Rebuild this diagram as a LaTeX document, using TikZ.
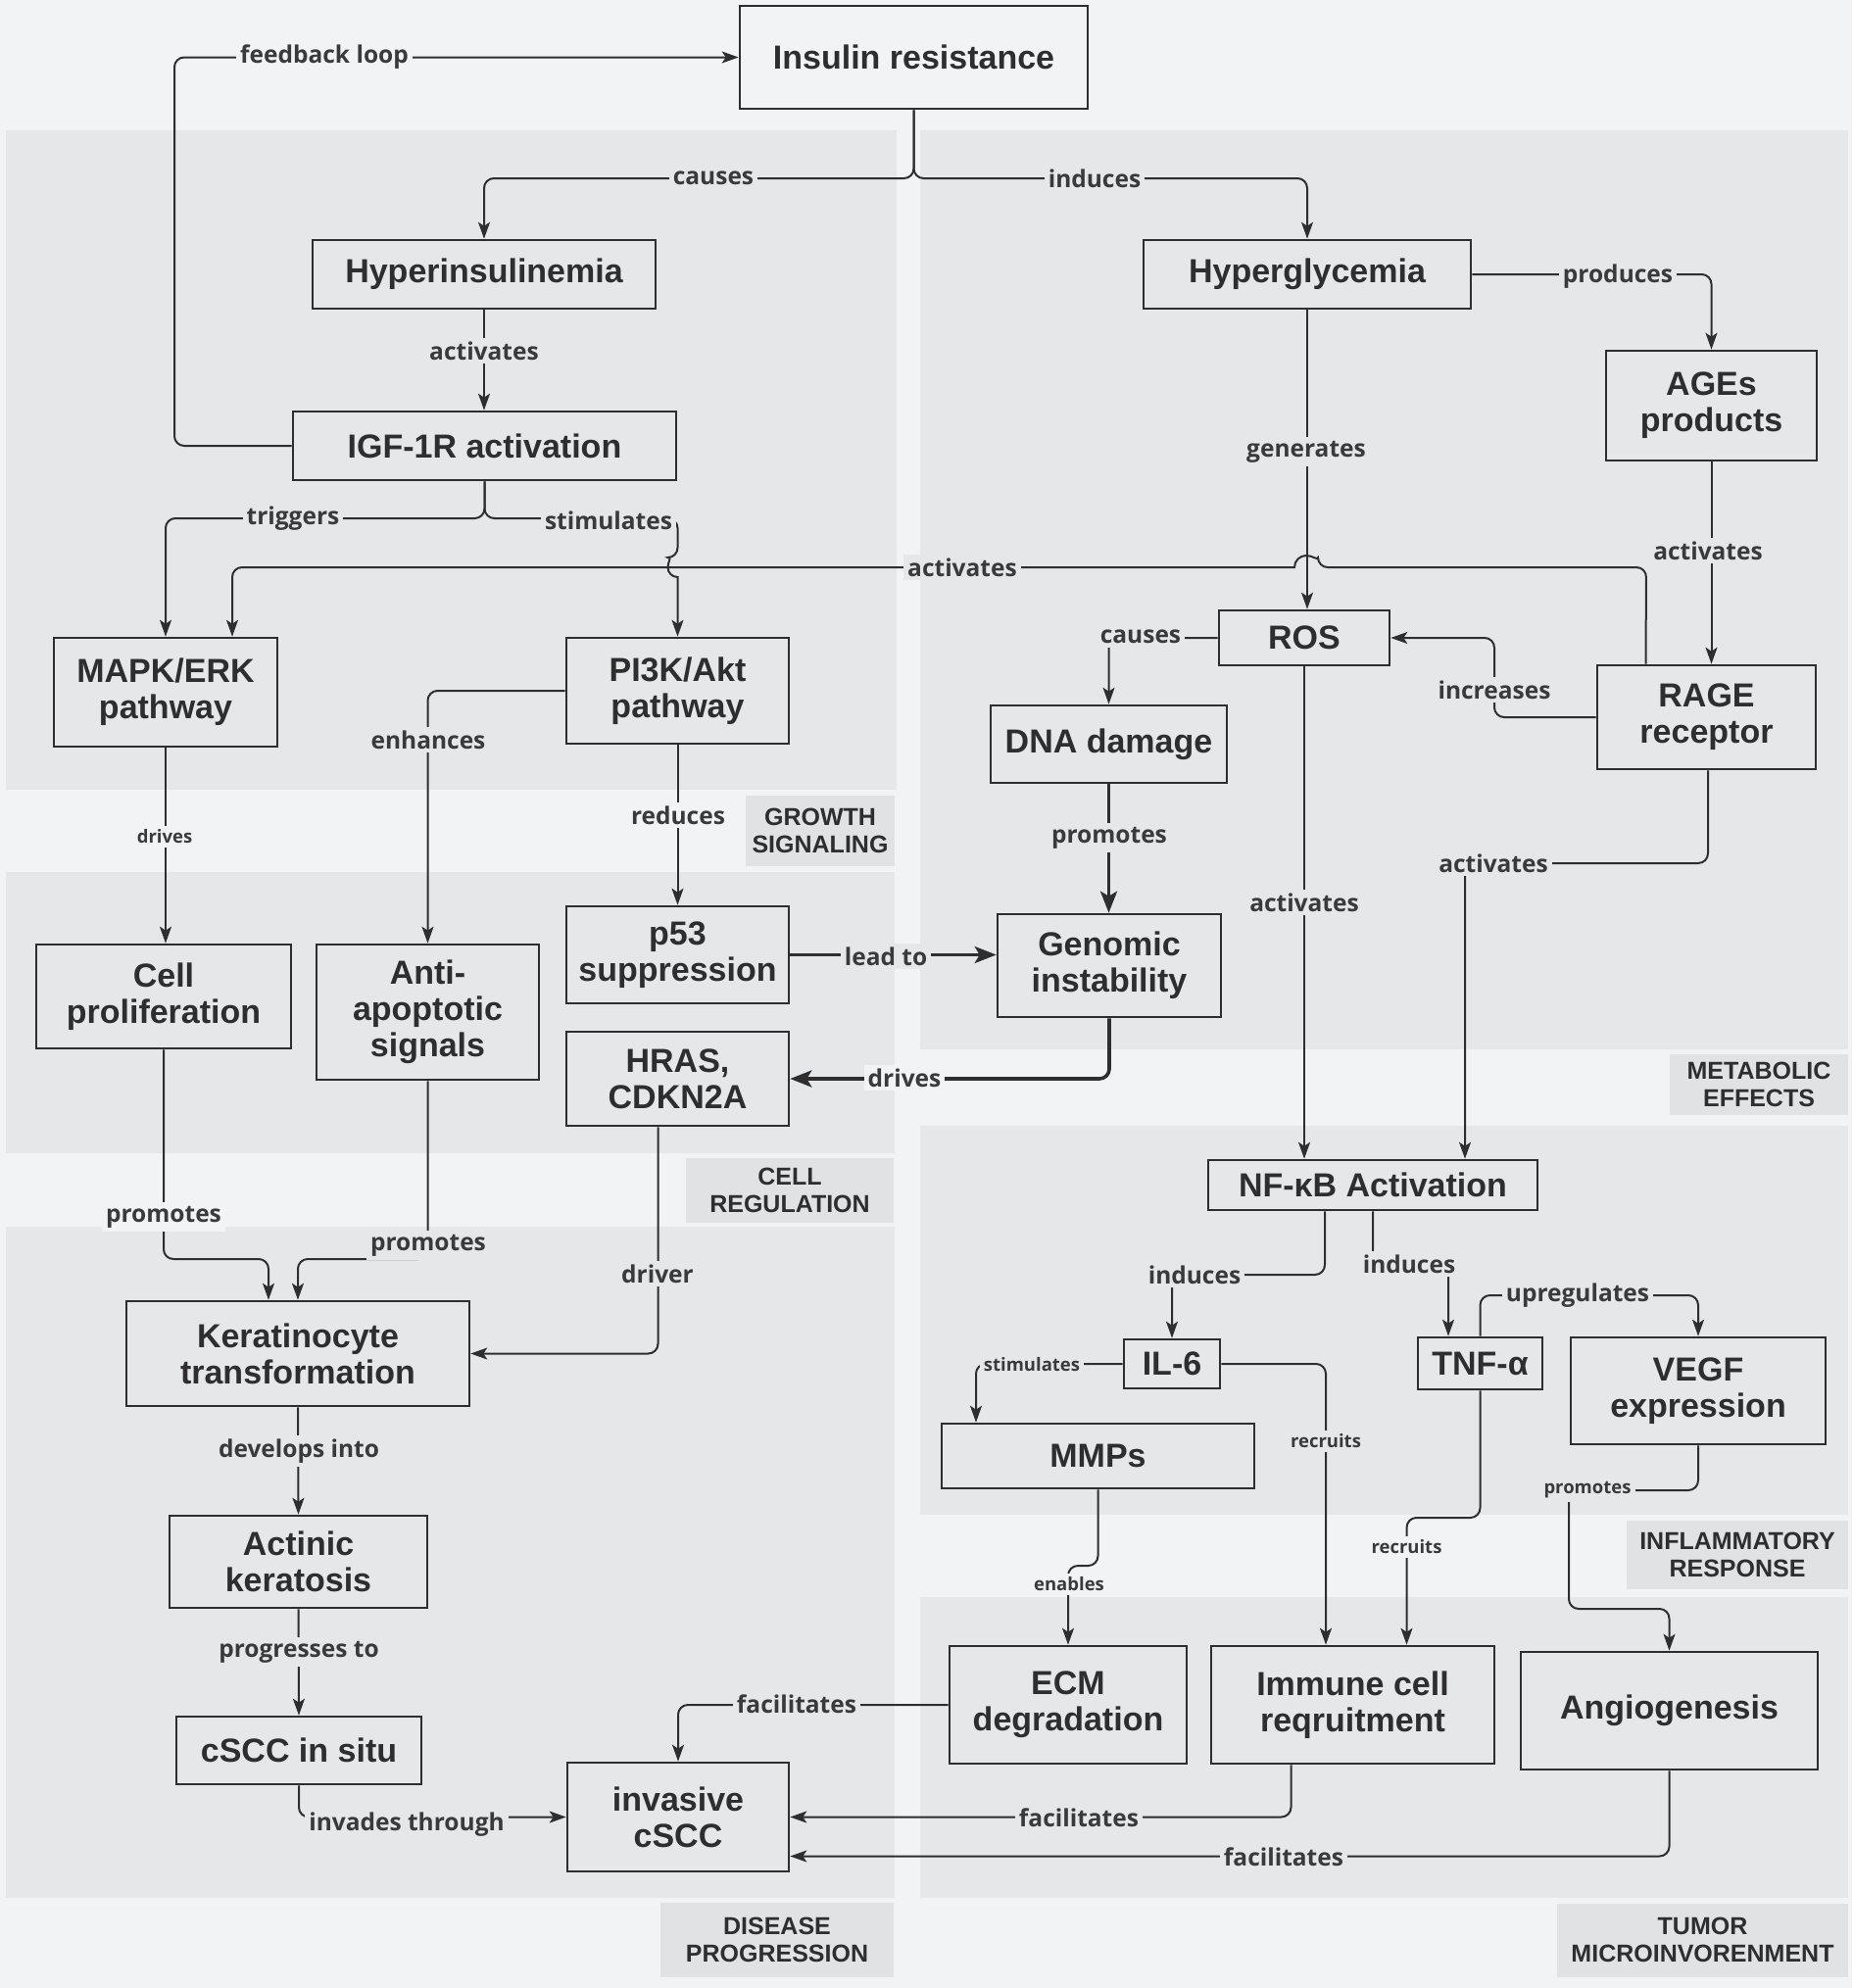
\documentclass[tikz,border=0pt]{standalone}
\usepackage{fontspec}
\setmainfont{Liberation Sans}
\newfontfamily\lblfont{Open Sans}
\usetikzlibrary{arrows.meta}
\definecolor{pagebg}{HTML}{F2F3F4}
\definecolor{panelbg}{HTML}{E6E7E9}
\definecolor{tagbg}{HTML}{E1E2E4}
\definecolor{ink}{HTML}{2E2E2E}
\definecolor{lblink}{HTML}{3A3A3A}

\begin{document}
\begin{tikzpicture}
    [
    x=1pt, y=-1pt,
    every node/.style={text=ink},
    box/.style={draw=ink, line width=2.6pt, align=center, inner sep=0pt, font=\bfseries\fontsize{34}{37}\selectfont},
    conn/.style={draw=ink, line width=2pt, rounded corners=10pt, -{Stealth[length=17pt,width=12pt,inset=4pt]}},
    thickconn/.style={conn, line width=3.6pt, -{Stealth[length=22pt,width=17pt,inset=5pt]}},
    lbl/.style={fill=panelbg, text=lblink, inner sep=4pt, font=\lblfont\bfseries\fontsize{24.5}{28}\selectfont},
    lblgap/.style={lbl, fill=pagebg},
    small/.style={font=\lblfont\bfseries\fontsize{18.5}{22}\selectfont},
    tag/.style={fill=tagbg, align=center, inner sep=0pt, font=\bfseries\fontsize{25}{28}\selectfont},
    ]

    \fill[pagebg] (0,0) rectangle (1890,2029);
    \useasboundingbox (0,0) rectangle (1890,2029);

    % panels
    \fill[panelbg] (6,133) rectangle (915,806);
    \fill[panelbg] (6,890) rectangle (913,1177);
    \fill[panelbg] (6,1252) rectangle (913,1937);
    \fill[panelbg] (939,133) rectangle (1886,1071);
    \fill[panelbg] (939,1149) rectangle (1886,1546);
    \fill[panelbg] (939,1630) rectangle (1886,1937);

    \node[tag, minimum width=152pt, minimum height=72pt] (tag_growth) at (837,848) {GROWTH\\SIGNALING};
    \node[tag, minimum width=212pt, minimum height=66pt] (tag_cell) at (806,1215) {CELL\\REGULATION};
    \node[tag, minimum width=238pt, minimum height=76pt] (tag_disease) at (793,1980) {DISEASE\\PROGRESSION};
    \node[tag, minimum width=182pt, minimum height=62pt] (tag_metabolic) at (1795,1107) {METABOLIC\\EFFECTS};
    \node[tag, minimum width=226pt, minimum height=70pt] (tag_inflam) at (1773,1587) {INFLAMMATORY\\RESPONSE};
    \node[tag, minimum width=297pt, minimum height=75pt] (tag_tumor) at (1737.5,1980) {TUMOR\\MICROINVORENMENT};

    % boxes
    \node[box, minimum width=355pt, minimum height=105pt] (ins) at (932.5,58.5) {Insulin resistance};
    \node[box, minimum width=350pt, minimum height=70pt] (hyperins) at (494,280) {Hyperinsulinemia};
    \node[box, minimum width=334pt, minimum height=70pt] (hypergly) at (1334,280) {Hyperglycemia};
    \node[box, minimum width=391pt, minimum height=70pt] (igf) at (494.5,455) {IGF-1R activation};
    \node[box, minimum width=215pt, minimum height=112pt] (ages) at (1746.5,414) {AGEs\\products};
    \node[box, minimum width=228pt, minimum height=111pt] (mapk) at (169,706.5) {MAPK/ERK\\pathway};
    \node[box, minimum width=227pt, minimum height=108pt] (pi3k) at (691.5,705) {PI3K/Akt\\pathway};
    \node[box, minimum width=174pt, minimum height=56pt] (ros) at (1331,651) {ROS};
    \node[box, minimum width=241pt, minimum height=79pt] (dna) at (1131.5,759.5) {DNA damage};
    \node[box, minimum width=223pt, minimum height=106pt] (rage) at (1741.5,732) {RAGE\\receptor};
    \node[box, minimum width=260pt, minimum height=106pt] (cellprol) at (167,1017) {Cell\\proliferation};
    \node[box, minimum width=227pt, minimum height=138pt] (antiapo) at (436.5,1033) {Anti-\\apoptotic\\signals};
    \node[box, minimum width=227pt, minimum height=99pt] (p53) at (691.5,974.5) {p53\\suppression};
    \node[box, minimum width=227pt, minimum height=96pt] (hras) at (691.5,1101) {HRAS,\\CDKN2A};
    \node[box, minimum width=228pt, minimum height=105pt] (genomic) at (1132,985.5) {Genomic\\instability};
    \node[box, minimum width=336pt, minimum height=51pt] (nfkb) at (1401,1209.5) {NF-κB Activation};
    \node[box, minimum width=98pt, minimum height=50pt] (il6) at (1196,1392) {IL-6};
    \node[box, minimum width=127pt, minimum height=53pt] (tnf) at (1510.5,1391.5) {TNF-α};
    \node[box, minimum width=260pt, minimum height=109pt] (vegf) at (1733,1419.5) {VEGF\\expression};
    \node[box, minimum width=319pt, minimum height=66pt] (mmps) at (1120.5,1486) {MMPs};
    \node[box, minimum width=242pt, minimum height=120pt] (ecm) at (1090,1740) {ECM\\degradation};
    \node[box, minimum width=289pt, minimum height=120pt] (immune) at (1380.5,1740) {Immune cell\\reqruitment};
    \node[box, minimum width=303pt, minimum height=120pt] (angio) at (1703.5,1746) {Angiogenesis};
    \node[box, minimum width=350pt, minimum height=107pt] (kerat) at (304,1381.5) {Keratinocyte\\transformation};
    \node[box, minimum width=263pt, minimum height=94pt] (actinic) at (304.5,1594) {Actinic\\keratosis};
    \node[box, minimum width=250pt, minimum height=69pt] (insitu) at (305,1786.5) {cSCC in situ};
    \node[box, minimum width=226pt, minimum height=111pt] (invasive) at (692,1854.5) {invasive\\cSCC};

    % connectors
    \draw[conn] (igf.west) -| (178,58.5) -- (ins.west);
    \draw[conn] (ins.south) -- (932.5,182) -| (hyperins.north);
    \draw[conn] (ins.south) -- (932.5,182) -| (hypergly.north);
    \draw[conn] (hyperins.south) -- (hyperins.south |- igf.north);
    \draw[conn] (hypergly.east) -| (ages.north);
    \draw[conn] (hypergly.south) -- (hypergly.south |- ros.north);
    \draw[conn] (ages.south) -- (ages.south |- rage.north);
    \draw[conn] (igf.south) -- (494.5,529) -| (691.5,569) [sharp corners] arc[start angle=90, end angle=270, radius=10pt] -- (pi3k.north);
    \draw[conn] (igf.south) -- (494.5,529) -| (mapk.north);
    \draw[conn] ([xshift=-62pt]rage.north) -- (1680,579) -- (1345,579) [sharp corners] arc[start angle=0, end angle=180, radius=12pt] [rounded corners=10pt] -- (237,579) -- ([xshift=68pt]mapk.north);
    \draw[conn] (rage.west) -| (1525,651) -- (ros.east);
    \draw[conn] (ros.west) -| (dna.north);
    \draw[thickconn] (dna.south) -- (dna.south |- genomic.north);
    \draw[thickconn] (p53.east) -- (genomic.west |- p53.east);
    \draw[thickconn] (genomic.south) |- (hras.east);
    \draw[conn] (ros.south) -- (ros.south |- nfkb.north);
    \draw[conn] ([xshift=1.5pt]rage.south) -- (1743,881) -| ([xshift=94pt]nfkb.north);
    \draw[conn] (mapk.south) -- (mapk.south |- cellprol.north);
    \draw[conn] (pi3k.west) -| (antiapo.north);
    \draw[conn] (pi3k.south) -- (p53.north);
    \draw[conn] (cellprol.south) -- (167,1285) -| ([xshift=-30pt]kerat.north);
    \draw[conn] (antiapo.south) -- (436.5,1285) -| (kerat.north);
    \draw[conn] ([xshift=-20pt]hras.south) |- (kerat.east);
    \draw[conn] (kerat.south) -- (actinic.north);
    \draw[conn] (actinic.south) -- (insitu.north);
    \draw[conn] (insitu.south) |- (invasive.west);
    \draw[conn] (ecm.west) -| (invasive.north);
    \draw[conn] ([xshift=-63pt]immune.south) |- (invasive.east);
    \draw[conn] (angio.south) |- ([yshift=-40pt]invasive.east);
    \draw[conn] ([xshift=-49pt]nfkb.south) -- (1352,1301) -| (il6.north);
    \draw[conn] (nfkb.south) -- (1401,1290) -| ([xshift=-32.5pt]tnf.north);
    \draw[conn] (tnf.north) -- (1510.5,1322) -| (vegf.north);
    \draw[conn] (il6.west) -| ([xshift=-124.5pt]mmps.north);
    \draw[conn] (il6.east) -| ([xshift=-27.5pt]immune.north);
    \draw[conn] (tnf.south) -- (1510.5,1549) -| ([xshift=55pt]immune.north);
    \draw[conn] (vegf.south) -- (1733,1521) -| (1601,1642) -| (angio.north);
    \draw[conn] (mmps.south) -- (1120.5,1598) -| (ecm.north);

    % labels
    \node[lblgap] (l_feedback) at (331,58.5) {feedback loop};
    \node[lbl] (l_causes) at (728,182) {causes};
    \node[lbl] (l_induces) at (1117,182) {induces};
    \node[lbl] (l_act1) at (494,358) {activates};
    \node[lbl] (l_produces) at (1651,282) {produces};
    \node[lbl] (l_generates) at (1333,461) {generates};
    \node[lbl] (l_act2) at (1743,562) {activates};
    \node[lbl] (l_triggers) at (299,529) {triggers};
    \node[lbl] (l_stim1) at (621,531) {stimulates};
    \node[lbl] (l_act3) at (982,579) {activates};
    \node[lbl] (l_enhances) at (437,755) {enhances};
    \node[lblgap] (l_reduces) at (692,832) {reduces};
    \node[lblgap, small] (l_drives1) at (168,854) {drives};
    \node[lbl] (l_causes2) at (1164,650) {causes};
    \node[lbl] (l_increases) at (1525,704) {increases};
    \node[lbl] (l_promotes1) at (1132,855) {promotes};
    \node[lbl] (l_act4) at (1331,921) {activates};
    \node[lbl] (l_act5) at (1524,881) {activates};
    \node[lbl] (l_leadto) at (904,976) {lead to};
    \node[lblgap] (l_drives2) at (923,1100) {drives};
    \node[lblgap] (l_promotes2) at (167,1242) {promotes};
    \node[lbl] (l_promotes3) at (437,1271) {promotes};
    \node[lbl] (l_driver) at (671,1300) {driver};
    \node[lbl] (l_develops) at (305,1481) {develops into};
    \node[lbl] (l_progresses) at (305,1686) {progresses to};
    \node[lbl] (l_invades) at (415,1862) {invades through};
    \node[lbl] (l_facil1) at (813,1739) {facilitates};
    \node[lbl] (l_facil2) at (1101,1855) {facilitates};
    \node[lbl] (l_facil3) at (1310,1895) {facilitates};
    \node[lbl] (l_induces2) at (1219,1301) {induces};
    \node[lbl] (l_induces3) at (1438,1290) {induces};
    \node[lbl] (l_upreg) at (1610,1322) {upregulates};
    \node[lbl, small] (l_stim2) at (1053,1393) {stimulates};
    \node[lbl, small] (l_recruits1) at (1353,1471) {recruits};
    \node[lblgap, small] (l_recruits2) at (1435.5,1579) {recruits};
    \node[lbl, small] (l_promotes4) at (1620,1521) {promotes};
    \node[lblgap, small] (l_enables) at (1091,1617) {enables};
\end{tikzpicture}
\end{document}
